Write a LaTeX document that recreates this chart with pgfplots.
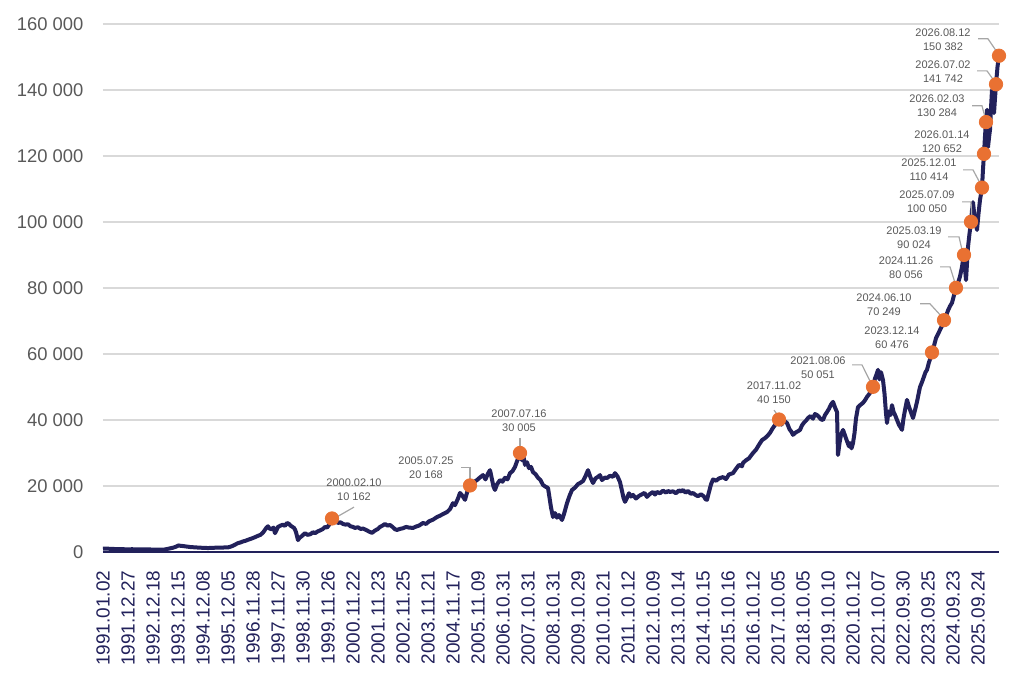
\documentclass[border=0pt]{standalone}
\usepackage{fontspec}
\setmainfont{Liberation Sans}
\usepackage{pgfplots}
\usepackage{pgfplotstable}
\pgfplotsset{compat=1.18}
\definecolor{navy}{HTML}{22215B}
\definecolor{dotor}{HTML}{E97132}
\definecolor{tickgray}{HTML}{595959}
\definecolor{gridgray}{HTML}{D9D9D9}
\definecolor{leadgray}{HTML}{A6A6A6}
\tikzset{
  lbl/.style={font=\fontsize{5.5bp}{7bp}\selectfont, text=tickgray, align=center, inner sep=0pt},
  ldr/.style={draw=leadgray, line width=0.6bp},
}

\pgfplotstableread{
x y
0.00 1000
0.12 1020
0.25 980
0.36 950
0.48 900
0.62 870
0.75 850
0.88 830
1.00 800
1.15 840
1.30 820
1.45 790
1.60 780
1.75 770
1.90 760
2.05 730
2.20 700
2.35 690
2.45 740
2.56 900
2.68 1100
2.80 1300
2.92 1600
3.02 2000
3.08 1900
3.20 1800
3.30 1700
3.40 1600
3.50 1500
3.60 1450
3.68 1400
3.80 1350
3.90 1300
4.05 1250
4.20 1200
4.35 1250
4.50 1300
4.65 1300
4.80 1350
4.90 1400
5.00 1400
5.10 1600
5.20 1900
5.30 2300
5.40 2700
5.50 2900
5.60 3200
5.70 3400
5.80 3700
5.95 4100
6.08 4500
6.20 4900
6.30 5200
6.40 5900
6.45 6400
6.52 7200
6.60 7800
6.66 7100
6.75 6900
6.82 7400
6.88 5700
6.95 6800
7.00 7600
7.10 8000
7.20 8300
7.28 7900
7.36 8800
7.44 8500
7.50 8000
7.58 7600
7.64 7300
7.68 6800
7.72 6000
7.76 4800
7.80 3600
7.86 4300
7.95 4800
8.02 5300
8.08 5700
8.18 5200
8.30 5400
8.40 6000
8.48 5700
8.58 6200
8.70 6600
8.80 7000
8.88 7600
8.96 7400
9.04 8200
9.10 9200
9.16 10162
9.24 9600
9.32 9400
9.40 8800
9.50 9000
9.60 8500
9.70 8300
9.80 8400
9.90 7800
10.00 7600
10.08 7300
10.20 7500
10.30 7000
10.40 7100
10.52 6700
10.64 6200
10.76 5800
10.88 6500
11.00 7000
11.08 7600
11.18 8000
11.28 8500
11.38 8000
11.48 8200
11.58 7600
11.68 6900
11.76 6700
11.88 7000
12.00 7200
12.12 7600
12.24 7400
12.40 7300
12.52 7700
12.64 8000
12.80 8800
12.92 8500
13.04 9300
13.20 9800
13.36 10600
13.48 11000
13.60 11500
13.76 12100
13.88 13000
14.00 14800
14.08 14200
14.20 16200
14.28 17900
14.38 17000
14.48 15800
14.58 18500
14.68 20168
14.80 21000
14.96 21800
15.08 22600
15.20 23300
15.30 22000
15.40 23800
15.48 24800
15.56 22000
15.62 19800
15.68 18800
15.76 20500
15.88 21800
15.98 21300
16.08 22500
16.18 22000
16.28 23900
16.38 24500
16.48 25800
16.56 27500
16.62 28600
16.68 30005
16.76 27800
16.82 28900
16.88 26400
16.96 27200
17.04 25400
17.12 25800
17.20 24200
17.30 23600
17.40 22500
17.50 21800
17.60 20300
17.70 19800
17.80 19400
17.86 16500
17.92 13500
18.00 10600
18.08 11800
18.16 10400
18.24 11200
18.36 9700
18.44 11500
18.56 14800
18.66 17000
18.76 18800
18.88 19500
19.00 20600
19.08 20900
19.20 21500
19.30 23000
19.40 24800
19.50 22600
19.60 20900
19.70 22300
19.80 22800
19.88 23300
19.96 21800
20.08 22600
20.16 22400
20.28 23100
20.40 22800
20.48 23900
20.58 22900
20.68 21200
20.76 18500
20.82 16400
20.88 15200
20.96 16400
21.04 17800
21.12 16800
21.20 17300
21.32 16200
21.44 17000
21.56 17500
21.66 17900
21.76 16700
21.88 17600
22.00 18200
22.08 17400
22.16 18200
22.28 17800
22.40 18600
22.52 18000
22.60 18500
22.68 18200
22.80 18400
22.92 17800
23.04 18700
23.12 18300
23.20 18800
23.30 18000
23.40 18500
23.52 17600
23.60 17900
23.70 17300
23.80 16900
23.92 17500
24.04 16800
24.10 16000
24.16 15800
24.24 18200
24.32 20500
24.40 22000
24.52 21600
24.64 22300
24.80 22700
24.92 22100
25.04 23500
25.20 23900
25.32 25200
25.44 26400
25.56 26000
25.60 27000
25.72 27800
25.84 28400
26.00 30000
26.12 31000
26.24 32500
26.36 33900
26.48 34500
26.58 35200
26.68 36100
26.78 37400
26.88 38500
26.96 39000
27.04 40150
27.14 38600
27.24 39800
27.36 39100
27.46 37200
27.54 36400
27.60 35500
27.70 36200
27.80 36600
27.88 37000
27.96 38400
28.04 39200
28.12 39800
28.20 40600
28.30 41200
28.40 40400
28.48 41800
28.56 41500
28.64 40900
28.72 40200
28.80 40000
28.88 41500
28.96 42400
29.04 43400
29.12 44700
29.20 45500
29.28 43800
29.36 42400
29.38 36000
29.40 29400
29.46 33000
29.52 35500
29.60 37000
29.68 35300
29.76 33600
29.84 32000
29.88 33000
29.94 31400
30.00 33000
30.06 36000
30.12 40500
30.20 43900
30.30 44600
30.40 45200
30.48 46000
30.56 47000
30.64 47800
30.72 48600
30.80 50051
30.88 52600
30.94 53800
31.00 55200
31.06 52300
31.12 54500
31.20 52100
31.26 48000
31.32 42000
31.36 39100
31.42 42600
31.50 41500
31.56 44500
31.62 42500
31.70 41200
31.76 40000
31.84 38500
31.90 37800
31.96 37000
32.02 40500
32.08 43000
32.16 46100
32.24 44000
32.32 42300
32.40 40600
32.48 43000
32.56 45500
32.62 47800
32.68 50000
32.76 51500
32.84 53200
32.90 54500
32.96 55200
33.04 57500
33.10 58800
33.16 60476
33.24 62500
33.32 64800
33.40 66000
33.48 67300
33.56 68500
33.64 70249
33.72 71500
33.80 73200
33.88 74500
33.96 75500
34.04 77800
34.12 80056
34.20 81500
34.28 83500
34.36 86400
34.40 88500
34.44 90024
34.48 86000
34.52 82400
34.56 87500
34.60 92400
34.66 96500
34.72 100050
34.76 103500
34.80 106000
34.86 101500
34.92 99000
34.96 97600
35.02 102500
35.08 106700
35.12 108500
35.16 110414
35.20 116000
35.24 120652
35.28 126000
35.32 130284
35.36 134000
35.40 122700
35.44 125500
35.48 128000
35.52 134500
35.56 140000
35.60 136000
35.64 133000
35.68 137500
35.72 141742
35.78 147000
35.84 150382
}\bux

\pgfplotstableread{
x y
9.16 10162
14.68 20168
16.68 30005
27.04 40150
30.80 50051
33.16 60476
33.64 70249
34.12 80056
34.44 90024
34.72 100050
35.16 110414
35.24 120652
35.32 130284
35.72 141742
35.84 150382
}\milestones

\begin{document}
\begin{tikzpicture}
\begin{axis}[
  width=448bp, height=264bp, scale only axis,
  xmin=0, xmax=35.84, ymin=0, ymax=160000,
  axis lines=left, axis line style={-},
  x axis line style={navy, line width=0.9bp},
  y axis line style={draw=none},
  ymajorgrids, grid style={gridgray, line width=0.7bp},
  xtick={0,...,35},
  xticklabels={1991.01.02,1991.12.27,1992.12.18,1993.12.15,1994.12.08,1995.12.05,1996.11.28,1997.11.27,1998.11.30,1999.11.26,2000.11.22,2001.11.23,2002.11.25,2003.11.21,2004.11.17,2005.11.09,2006.10.31,2007.10.31,2008.10.31,2009.10.29,2010.10.21,2011.10.12,2012.10.09,2013.10.14,2014.10.15,2015.10.16,2016.10.12,2017.10.05,2018.10.05,2019.10.10,2020.10.12,2021.10.07,2022.09.30,2023.09.25,2024.09.23,2025.09.24},
  ytick={0,20000,40000,60000,80000,100000,120000,140000,160000},
  yticklabels={0,20 000,40 000,60 000,80 000,100 000,120 000,140 000,160 000},
  tick style={draw=none},
  xticklabel style={rotate=90, anchor=east, inner sep=0pt, font=\fontsize{9.5bp}{11bp}\selectfont, text=navy},
  yticklabel style={anchor=east, inner sep=0pt, font=\fontsize{9.2bp}{11bp}\selectfont, text=tickgray},
  xticklabel shift=7bp, yticklabel shift=7.5bp,
  clip=false,
  scaled y ticks=false,
]
\addplot[navy, line width=2bp, line join=round, mark=none] table[x=x,y=y] {\bux};

% leader lines
\draw[ldr] (axis cs:9.28,10300) -- (axis cs:10.04,13600);
\draw[ldr] (axis cs:14.68,21200) -- (axis cs:14.68,25500) -- (axis cs:14.32,25500);
\draw[ldr] (axis cs:16.68,31200) -- (axis cs:16.68,34500);
\draw[ldr] (axis cs:26.84,43000) -- (axis cs:27.04,40900);
\draw[ldr] (axis cs:29.96,56700) -- (axis cs:30.36,56700) -- (axis cs:30.76,50600);
\draw[ldr] (axis cs:32.68,75200) -- (axis cs:33.08,75200) -- (axis cs:33.60,70900);
\draw[ldr] (axis cs:33.48,86400) -- (axis cs:33.88,86400) -- (axis cs:34.12,80600);
\draw[ldr] (axis cs:33.80,95500) -- (axis cs:34.24,95500) -- (axis cs:34.40,90300);
\draw[ldr] (axis cs:34.36,106100) -- (axis cs:34.72,106100) -- (axis cs:34.76,100600);
\draw[ldr] (axis cs:34.40,115800) -- (axis cs:34.80,115800) -- (axis cs:35.08,111800);
\draw[ldr] (axis cs:34.76,135200) -- (axis cs:35.16,135200) -- (axis cs:35.28,131800);
\draw[ldr] (axis cs:34.96,145800) -- (axis cs:35.36,145800) -- (axis cs:35.68,142400);
\draw[ldr] (axis cs:35.00,155500) -- (axis cs:35.40,155500) -- (axis cs:35.76,151500);

\addplot[only marks, mark=*, mark size=3.35bp, mark options={fill=dotor, draw=dotor}] table[x=x,y=y] {\milestones};

% labels
\node[lbl] at (axis cs:10.04,18900) {2000.02.10\\10 162};
\node[lbl] at (axis cs:12.92,25600) {2005.07.25\\20 168};
\node[lbl] at (axis cs:16.64,39700) {2007.07.16\\30 005};
\node[lbl] at (axis cs:26.84,48300) {2017.11.02\\40 150};
\node[lbl] at (axis cs:28.60,55900) {2021.08.06\\50 051};
\node[lbl] at (axis cs:31.56,65000) {2023.12.14\\60 476};
\node[lbl] at (axis cs:31.24,75000) {2024.06.10\\70 249};
\node[lbl] at (axis cs:32.12,86200) {2024.11.26\\80 056};
\node[lbl] at (axis cs:32.44,95300) {2025.03.19\\90 024};
\node[lbl] at (axis cs:32.96,106100) {2025.07.09\\100 050};
\node[lbl] at (axis cs:33.04,115800) {2025.12.01\\110 414};
\node[lbl] at (axis cs:33.56,124400) {2026.01.14\\120 652};
\node[lbl] at (axis cs:33.36,135200) {2026.02.03\\130 284};
\node[lbl] at (axis cs:33.60,145600) {2026.07.02\\141 742};
\node[lbl] at (axis cs:33.60,155200) {2026.08.12\\150 382};
\end{axis}
\pgfresetboundingbox
\path[use as bounding box] (-51.5bp,-63.5bp) rectangle (460.5bp,276bp);
\end{tikzpicture}
\end{document}
